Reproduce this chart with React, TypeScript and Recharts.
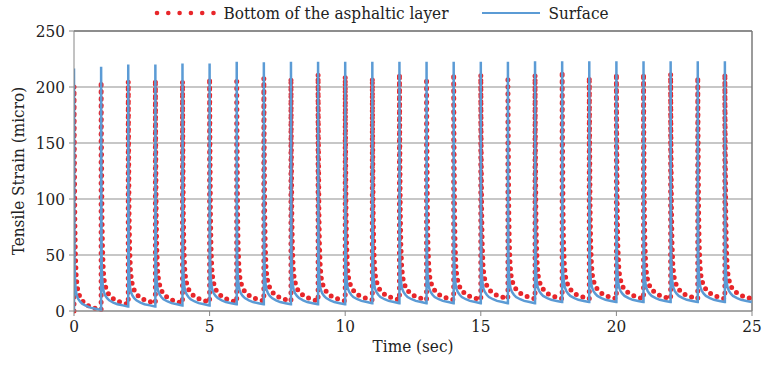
import React from "react";
import {
  LineChart,
  Line,
  XAxis,
  YAxis,
  CartesianGrid,
  Legend,
  ReferenceLine,
  Label,
} from "recharts";

//========== Data ====================================

// one load pulse per second
const pulseTimes = [0, 1, 2, 3, 4, 5, 6, 7, 8, 9, 10, 11, 12, 13, 14, 15, 16, 17, 18, 19, 20, 21, 22, 23, 24];

const surfacePeaks = [216.5, 218, 220, 220, 221, 221, 222.5, 222, 222.5, 222.5, 222.5, 222.5, 222.5, 222.5, 222.5, 222.5, 222.5, 223, 223, 223, 223, 223, 223, 223, 223];
const surfaceBase = [1, 4, 4, 5, 5, 6, 6, 6, 6, 6, 7, 7, 7, 7, 7, 7, 7, 8, 8, 8, 8, 8, 8, 8, 8];
// decay after each surface peak: seconds after the peak / strain above the resting level
const surfaceTailTimes = [0.01, 0.02, 0.04, 0.07, 0.1, 0.15, 0.22, 0.3, 0.45, 0.6, 0.8, 0.99];
const surfaceTailExcess = [90, 40, 25, 17, 13, 10, 7.5, 5.5, 3.5, 2, 1, 0];

const bottomPeaks = [200.5, 205, 205, 206.5, 205, 208, 208, 208, 208, 211.5, 209.5, 208, 212, 208, 212, 211, 209.5, 211, 214, 209, 212, 212, 212, 209, 212];
const bottomBase = [1, 6, 7, 7, 8, 8, 9, 9, 9, 9, 10, 10, 10, 10, 10, 11, 11, 11, 11, 11, 11, 11, 11, 11, 11];
const bottomTailTimes = [0.01, 0.03, 0.05, 0.08, 0.12, 0.18, 0.25, 0.35, 0.5, 0.7, 0.99];
const bottomTailExcess = [150, 80, 50, 30, 20, 14, 10, 7, 4, 2, 0];

const xTicks = [0, 5, 10, 15, 20, 25];
const yTicks = [0, 50, 100, 150, 200, 250];

const FONT = "'DejaVu Serif Condensed', 'DejaVu Serif', serif";
const FS = 17;
const BLUE = "#5B9BD5";
const RED = "#E8262A";
const AXIS = "#868686";

type Pt = { t: number; v: number };

const buildSeries = (
  peaks: number[],
  base: number[],
  tailTimes: number[],
  tailExcess: number[]
): Pt[] => {
  const pts: Pt[] = [];
  let prev = 0;
  pulseTimes.forEach((t0, i) => {
    pts.push({ t: t0, v: prev });
    pts.push({ t: t0, v: peaks[i] });
    tailTimes.forEach((dt, j) => {
      pts.push({ t: t0 + dt, v: base[i] + tailExcess[j] });
    });
    prev = base[i];
  });
  return pts;
};

const surfaceData = buildSeries(surfacePeaks, surfaceBase, surfaceTailTimes, surfaceTailExcess);
const bottomData = buildSeries(bottomPeaks, bottomBase, bottomTailTimes, bottomTailExcess);

//========== Legend ===========

const ChartLegend = () => (
  <div
    style={{
      display: "flex",
      justifyContent: "center",
      alignItems: "center",
      fontFamily: FONT,
      fontSize: FS,
      lineHeight: "20px",
      color: "#222",
    }}
  >
    <svg width={64} height={10} style={{ marginRight: 6 }}>
      {[0, 1, 2, 3, 4, 5].map((i) => (
        <circle key={i} cx={4 + i * 11.3} cy={5} r={2.3} fill={RED} />
      ))}
    </svg>
    <span>Bottom of the asphaltic layer</span>
    <svg width={58} height={10} style={{ marginLeft: 34, marginRight: 8 }}>
      <line x1={0} y1={5} x2={58} y2={5} stroke={BLUE} strokeWidth={2} />
    </svg>
    <span>Surface</span>
  </div>
);

//========== Chart ===========

const App: React.FC = () => {
  return (
    <div style={{ position: "absolute", left: 0, top: 0, background: "#fff", fontFamily: FONT }}>
      <LineChart
        width={762}
        height={375}
        margin={{ top: 11, right: 10, bottom: 22, left: 4 }}
        style={{ fontFamily: FONT }}
      >
        <CartesianGrid horizontal vertical={false} stroke="#b4b4b4" strokeWidth={1.3} />
        <XAxis
          type="number"
          dataKey="t"
          domain={[0, 25]}
          ticks={xTicks}
          allowDataOverflow
          height={42}
          stroke={AXIS}
          tickSize={5}
          tickMargin={4}
          tick={{ fill: "#222", fontSize: FS, fontFamily: FONT }}
        >
          <Label
            content={({ viewBox }: any) => (
              <text
                x={viewBox.x + viewBox.width / 2}
                y={viewBox.y + 41}
                textAnchor="middle"
                style={{ fontFamily: FONT, fontSize: FS }}
                fill="#222"
              >
                Time (sec)
              </text>
            )}
          />
        </XAxis>
        <YAxis
          type="number"
          domain={[0, 250]}
          ticks={yTicks}
          width={70}
          stroke={AXIS}
          tickSize={5}
          tickMargin={4}
          tick={{ fill: "#222", fontSize: FS, fontFamily: FONT }}
        >
          <Label
            content={({ viewBox }: any) => {
              const cx = viewBox.x + 14;
              const cy = viewBox.y + viewBox.height / 2;
              return (
                <text
                  x={cx}
                  y={cy}
                  transform={`rotate(-90 ${cx} ${cy})`}
                  textAnchor="middle"
                  dominantBaseline="central"
                  style={{ fontFamily: FONT, fontSize: FS }}
                  fill="#222"
                >
                  Tensile Strain (micro)
                </text>
              );
            }}
          />
        </YAxis>
        <ReferenceLine y={250} stroke="#7a7a7a" strokeWidth={1.5} />
        <ReferenceLine x={25} stroke="#7a7a7a" strokeWidth={1.5} />
        <Legend
          verticalAlign="top"
          content={() => <ChartLegend />}
          wrapperStyle={{ top: 3, left: 0, width: 762 }}
        />
        <Line
          data={bottomData}
          dataKey="v"
          type="linear"
          stroke={RED}
          strokeWidth={5}
          strokeDasharray="0 7"
          strokeLinecap="round"
          dot={false}
          isAnimationActive={false}
          name="Bottom of the asphaltic layer"
        />
        <Line
          data={surfaceData}
          dataKey="v"
          type="linear"
          stroke={BLUE}
          strokeWidth={2.5}
          dot={false}
          isAnimationActive={false}
          name="Surface"
        />
      </LineChart>
    </div>
  );
};

export default App;
